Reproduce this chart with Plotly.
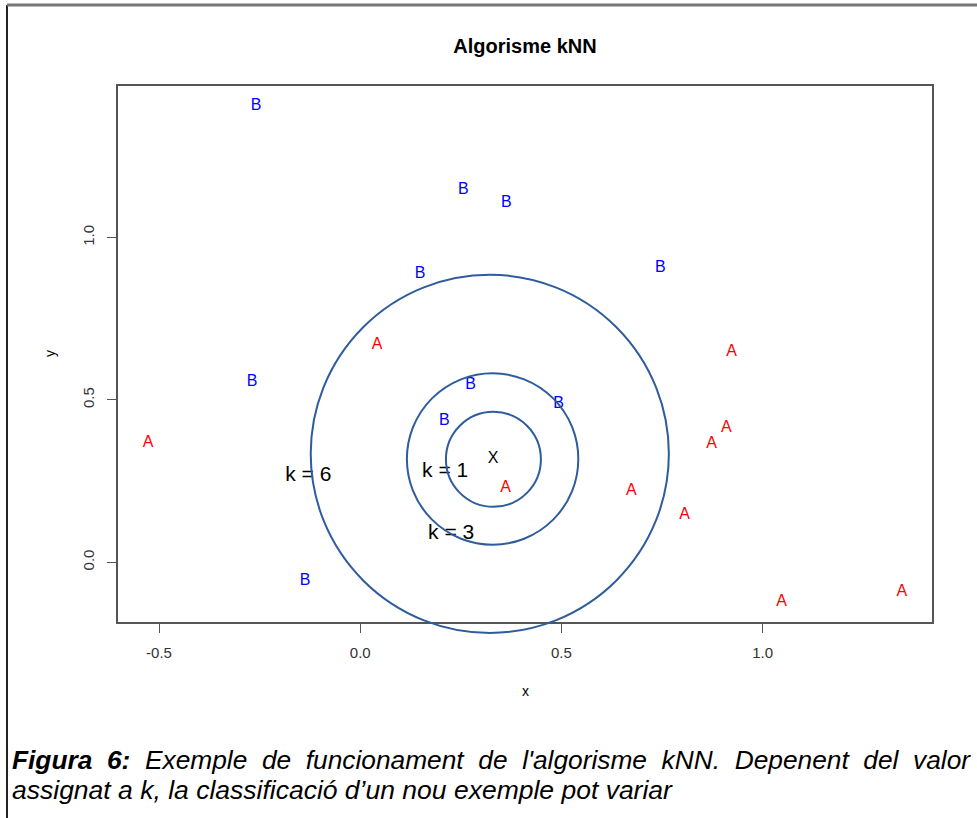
import plotly.graph_objects as go

# ---- data ----
labels = ["B", "B", "B", "B", "B", "A", "A", "B", "B", "B", "B", "A", "A", "A",
          "A", "A", "A", "B", "A", "A"]
xs = [-0.259, 0.256, 0.363, 0.149, 0.746, 0.042, 0.923, -0.269, 0.274, 0.493,
      0.209, 0.910, -0.527, 0.873, 0.361, 0.674, 0.806, -0.137, 1.047, 1.346]
ys = [1.406, 1.148, 1.108, 0.889, 0.905, 0.668, 0.649, 0.554, 0.545, 0.486,
      0.434, 0.415, 0.366, 0.363, 0.228, 0.218, 0.145, -0.058, -0.123, -0.092]
new_point = (0.330, 0.318)
circle_cx = [0.331, 0.329, 0.322]
circle_cy = [0.317, 0.318, 0.334]
radii = [0.118, 0.213, 0.445]
k_labels = ["k = 1", "k = 3", "k = 6"]
k_x = [0.211, 0.226, -0.129]
k_y = [0.280, 0.089, 0.265]
xticks = [-0.5, 0.0, 0.5, 1.0]
yticks = [0.0, 0.5, 1.0]

W, H = 977, 818
ML, MR, MT, MB = 118, 45, 86, 196
PW, PH = W - ML - MR, H - MT - MB
FONT = "Liberation Sans, Arial, sans-serif"

# R-style 4% range extension
allx = xs + [new_point[0]]
ally = ys + [new_point[1]]
dx = max(allx) - min(allx)
dy = max(ally) - min(ally)
xr = [min(allx) - 0.04 * dx, max(allx) + 0.04 * dx]
yr = [min(ally) - 0.04 * dy, max(ally) + 0.04 * dy]

colors = {"A": "#ff0000", "B": "#0000ff"}

fig = go.Figure()
for cls in ["A", "B"]:
    px_ = [x for x, l in zip(xs, labels) if l == cls]
    py_ = [y for y, l in zip(ys, labels) if l == cls]
    fig.add_trace(go.Scatter(x=px_, y=py_, mode="text", text=[cls] * len(px_),
                             textposition="middle center",
                             textfont=dict(family=FONT, size=16, color=colors[cls]),
                             cliponaxis=False, showlegend=False, hoverinfo="skip"))
fig.add_trace(go.Scatter(x=[new_point[0]], y=[new_point[1]], mode="text", text=["X"],
                         textfont=dict(family=FONT, size=16, color="#000"),
                         showlegend=False, cliponaxis=False))
fig.add_trace(go.Scatter(x=k_x, y=k_y, mode="text", text=k_labels,
                         textfont=dict(family=FONT, size=21, color="#000"),
                         showlegend=False, cliponaxis=False))

# circles (round in pixel space, radius in x units)
shapes = []
for cx, cy, r in zip(circle_cx, circle_cy, radii):
    cxf = (cx - xr[0]) / (xr[1] - xr[0])
    cyf = (cy - yr[0]) / (yr[1] - yr[0])
    rxf = r / (xr[1] - xr[0])
    ryf = rxf * PW / PH
    shapes.append(dict(type="circle", xref="x domain", yref="y domain",
                       x0=cxf - rxf, x1=cxf + rxf, y0=cyf - ryf, y1=cyf + ryf,
                       line=dict(color="#2e5c9c", width=2), layer="above"))

def pxx(p):
    return (p - ML) / PW

def pxy(p):
    return (H - MB - p) / PH

# outer page frame
shapes.append(dict(type="line", xref="paper", yref="paper", x0=pxx(7), x1=pxx(7),
                   y0=pxy(5), y1=pxy(830), line=dict(color="#222", width=2)))
shapes.append(dict(type="line", xref="paper", yref="paper", x0=pxx(7), x1=pxx(990),
                   y0=pxy(5), y1=pxy(5), line=dict(color="#777", width=3)))

gap = " \u00a0"
line1_words = ["<b><i>Figura", "6:</i></b>", "<i>Exemple", "de", "funcionament", "de",
               "l'algorisme", "kNN.", "Depenent", "del", "valor</i>"]
line1 = gap.join(line1_words)
line2 = "<i>assignat a k, la classificació d’un nou exemple pot variar</i>"

annotations = [
    dict(text=line1, xref="paper", yref="paper", x=pxx(10), y=pxy(760), xanchor="left",
         yanchor="middle", showarrow=False, font=dict(family=FONT, size=26.3, color="#000")),
    dict(text=line2, xref="paper", yref="paper", x=pxx(10), y=pxy(790), xanchor="left",
         yanchor="middle", showarrow=False, font=dict(family=FONT, size=26.5, color="#000")),
    dict(text="x", xref="paper", yref="paper", x=0.5, y=pxy(691), xanchor="center",
         yanchor="middle", showarrow=False, font=dict(family=FONT, size=14, color="#000")),
    dict(text="y", xref="paper", yref="paper", x=pxx(50), y=0.5, xanchor="center",
         yanchor="middle", textangle=-90, showarrow=False,
         font=dict(family=FONT, size=14, color="#000")),
]

axis_common = dict(showgrid=False, zeroline=False, showline=True, mirror=True,
                   linecolor="#555", linewidth=1.5, ticks="outside", ticklen=9,
                   tickcolor="#555", ticklabelstandoff=7,
                   tickfont=dict(family=FONT, size=15, color="#333"))

fig.update_layout(
    width=W, height=H,
    margin=dict(l=ML, r=MR, t=MT, b=MB),
    paper_bgcolor="white", plot_bgcolor="white",
    title=dict(text="<b>Algorisme kNN</b>", x=(ML + PW / 2) / W, y=1 - 46 / H,
               xanchor="center", yanchor="middle",
               font=dict(family=FONT, size=20, color="#000")),
    xaxis=dict(range=xr, tickvals=xticks, ticktext=[f"{v:.1f}" for v in xticks], **axis_common),
    yaxis=dict(range=yr, tickvals=yticks, ticktext=[f"{v:.1f}" for v in yticks],
               tickangle=-90, **axis_common),
    shapes=shapes,
    annotations=annotations,
)

fig.write_html("out.html")
